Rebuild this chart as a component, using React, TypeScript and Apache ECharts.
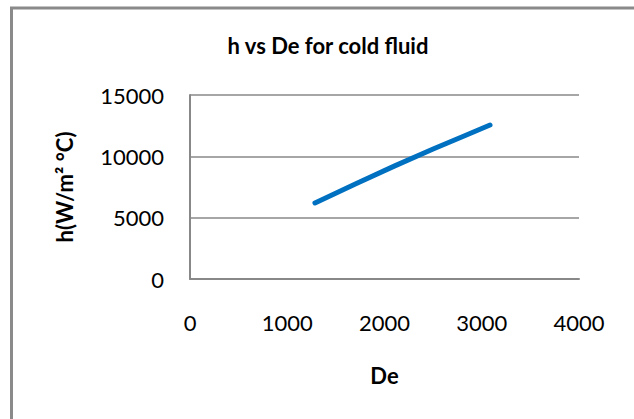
import React, { useEffect, useRef } from "react";
import * as echarts from "echarts";

const deValues = [1285, 1700, 2100, 2500, 2800, 3085];
const hValues = [6200, 7750, 9200, 10600, 11600, 12550];
const xTicks = [0, 1000, 2000, 3000, 4000];
const yTicks = [0, 5000, 10000, 15000];
const titleText = "h vs De for cold fluid";
const xName = "De";
const yName = "h(W/m² °C)";

export default function App() {
  const ref = useRef<HTMLDivElement>(null);
  useEffect(() => {
    document.body.style.margin = "0";
    const chart = echarts.init(ref.current!, undefined, { renderer: "svg" });
    const font = "Lato, 'Open Sans', sans-serif";
    chart.setOption({
      animation: false,
      backgroundColor: "#ffffff",
      title: {
        text: titleText,
        left: 323,
        top: 29,
        textAlign: "center",
        textStyle: { fontFamily: font, fontSize: 22, fontWeight: "bold", color: "#000" },
      },
      graphic: [
        {
          type: "rect",
          shape: { x: 11.5, y: 8, width: 700, height: 500 },
          style: { fill: "none", stroke: "#8a8a8a", lineWidth: 3 },
          silent: true,
        },
      ],
      grid: { left: 190, right: 55, top: 95, bottom: 140 },
      xAxis: {
        type: "value",
        min: xTicks[0],
        max: xTicks[xTicks.length - 1],
        interval: 1000,
        name: xName,
        nameLocation: "middle",
        nameGap: 85,
        nameTextStyle: { fontFamily: font, fontSize: 22, fontWeight: "bold", color: "#000" },
        axisLine: { show: true, lineStyle: { color: "#888", width: 2 } },
        axisTick: { show: false },
        splitLine: { show: false },
        axisLabel: { fontFamily: font, fontSize: 22, color: "#000", margin: 32, formatter: (v: number) => String(v) },
      },
      yAxis: {
        type: "value",
        min: yTicks[0],
        max: yTicks[yTicks.length - 1],
        interval: 5000,
        name: yName,
        nameLocation: "middle",
        nameGap: 115,
        nameTextStyle: { fontFamily: font, fontSize: 22, fontWeight: "bold", color: "#000" },
        axisLine: { show: true, lineStyle: { color: "#888", width: 2 } },
        axisTick: { show: false },
        splitLine: { show: true, lineStyle: { color: "#888", width: 1.5 } },
        axisLabel: { fontFamily: font, fontSize: 22, color: "#000", margin: 26, formatter: (v: number) => String(v) },
      },
      series: [
        {
          type: "line",
          data: deValues.map((d, i) => [d, hValues[i]]),
          smooth: false,
          showSymbol: false,
          lineStyle: { color: "#0070C0", width: 5, cap: "round", join: "round" },
        },
      ],
    });
    return () => chart.dispose();
  }, []);
  return <div ref={ref} style={{ position: "fixed", left: 0, top: 0, width: 634, height: 419 }} />;
}
